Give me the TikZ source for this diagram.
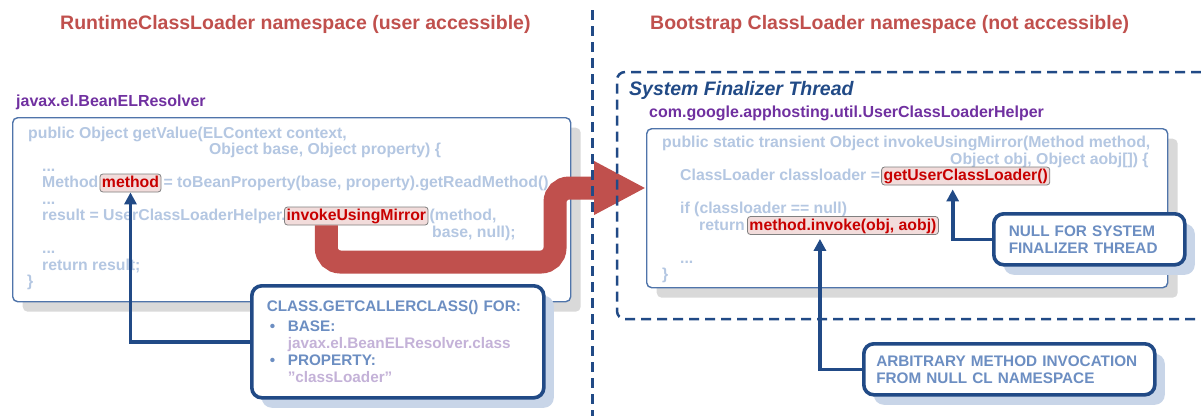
\documentclass[tikz,border=0pt]{standalone}
\usepackage{fontspec}
\setmainfont{Liberation Sans}
\usetikzlibrary{positioning,calc,shadows,arrows.meta}

\definecolor{titlered}{RGB}{192,80,77}
\definecolor{navy}{RGB}{33,74,134}
\definecolor{boxblue}{RGB}{79,116,170}
\definecolor{codegray}{RGB}{180,199,226}
\definecolor{notetext}{RGB}{108,142,194}
\definecolor{lilac}{RGB}{196,178,216}
\definecolor{pkgpurple}{RGB}{112,48,160}
\definecolor{hlfill}{RGB}{242,220,219}
\definecolor{hlred}{RGB}{200,0,0}
\definecolor{shadowgray}{RGB}{217,217,217}
\definecolor{shadowblue}{RGB}{200,213,232}

\newcommand\codefont{\fontsize{15.8}{16.5}\selectfont\bfseries}
\newcommand\notefont{\fontsize{15.3}{17}\selectfont\bfseries}

\tikzset{
  headline/.style={font=\fontsize{19.5}{22}\selectfont\bfseries, text=titlered, anchor=base west, inner sep=0},
  pkg/.style={font=\fontsize{16}{18}\selectfont\bfseries, text=pkgpurple, anchor=base west, inner sep=0},
  codeline/.style={font=\codefont, text=codegray, anchor=base west, inner sep=0},
  hl/.style={font=\codefont, text=hlred, fill=hlfill, draw=gray, line width=0.8pt, rounded corners=3pt,
    inner xsep=2pt, inner ysep=2pt, text height=11.5pt, text depth=2.5pt, anchor=base west},
  codebox/.style={draw=boxblue, line width=1.4pt, fill=white, rounded corners=5pt, anchor=north west,
    drop shadow={shadow xshift=10pt, shadow yshift=-10pt, fill=shadowgray, opacity=1}},
  callout/.style={draw=navy, line width=3.6pt, fill=white, rounded corners=10pt, font=\notefont, text=notetext,
    align=left, inner xsep=15pt, anchor=north west,
    drop shadow={shadow xshift=10pt, shadow yshift=-10pt, fill=shadowblue, opacity=1}},
  link/.style={draw=navy, line width=3.6pt, -{Triangle[length=12pt,width=12pt]}},
  bigarrow/.style={draw=titlered, line width=23pt, rounded corners=14pt, -{Triangle[length=52pt,width=50pt]}},
  divider/.style={navy, line width=3pt, dash pattern=on 10pt off 6pt},
  threadframe/.style={navy, line width=2.5pt, dash pattern=on 10pt off 6pt, rounded corners=8pt},
}

\begin{document}
\begin{tikzpicture}[x=1pt,y=-1pt]
  \useasboundingbox (0,0) rectangle (1201,416);
  % titles
  \node[headline] (ltitle) at (60,29) {RuntimeClassLoader namespace (user accessible)};
  \node[headline] (rtitle) at (650,29) {Bootstrap ClassLoader namespace (not accessible)};

  % user side
  \node[pkg] (lpkg) at (16,106.5) {javax.el.BeanELResolver};
  \node[codebox, minimum width=558pt, minimum height=184pt] (lcode) at (12,117) {};
  \node[codeline] (l1) at (28,138) {public Object getValue(ELContext context,};
  \node[codeline] (l2) at (209,154.5) {Object base, Object property) \{};
  \node[codeline] (l3) at (42,171) {...};
  \node[codeline] (l4) at (42,187.5) {Method};
  \node[hl] (hlmethod) at ([xshift=1pt]l4.base east) {method};
  \node[codeline] (l4b) at ([xshift=2pt]hlmethod.base east) {= toBeanProperty(base, property).getReadMethod()};
  \node[codeline] (l5) at (42,204) {...};
  \node[codeline] (l6) at (42,220.5) {result = UserClassLoaderHelper.};
  \node[hl] (hlmirror) at ([xshift=-2pt]l6.base east) {invokeUsingMirror};
  \node[codeline] (l6b) at ([xshift=1pt]hlmirror.base east) {(method,};
  \node[codeline] (l7) at (432,237) {base, null);};
  \node[codeline] (l8) at (42,253.5) {...};
  \node[codeline] (l9) at (42,270) {return result;};
  \node[codeline] (l10) at (27,286.5) {\}};

  % bootstrap side
  \node[pkg] (rpkg) at (649,117.5) {com.google.apphosting.util.UserClassLoaderHelper};
  \node[codebox, minimum width=521pt, minimum height=159pt] (rcode) at (646,128) {};
  \node[codeline] (r1) at (662,147.5) {public static transient Object invokeUsingMirror(Method method,};
  \node[codeline] (r2) at (950,164) {Object obj, Object aobj[]) \{};
  \node[codeline] (r3) at (680,180.5) {ClassLoader classloader =};
  \node[hl] (hlloader) at ([xshift=1pt]r3.base east) {getUserClassLoader()};
  \node[codeline] (r4) at (680,213.5) {if (classloader == null)};
  \node[codeline] (r5) at (699,230) {return};
  \node[hl] (hlinvoke) at ([xshift=2pt]r5.base east) {method.invoke(obj, aobj)};
  \node[codeline] (r6) at (680,263) {...};
  \node[codeline] (r7) at (662,279.5) {\}};

  % the call crossing over
  \coordinate (bendlow) at (555,262);
  \coordinate (bendhigh) at (555,188);
  \draw[bigarrow] ($(hlmirror.south)+(-30,0)$) |- (bendlow) -- (bendhigh) -- (bendhigh -| rcode.west);

  \draw[divider] (592,10) -- (592,416);
  \draw[threadframe] (1201,72) -- (617,72) -- (617,319) -- (1201,319);
  \node[font=\fontsize{19.5}{22}\selectfont\bfseries\itshape, text=navy, anchor=base west, inner sep=0]
    (thread) at (629,95) {System Finalizer Thread};

  % notes
  \node[callout, text width=262pt, minimum height=112pt] (getcaller) at (250,284)
    {CLASS.GETCALLERCLASS() FOR:\\[3pt]
     \makebox[21pt][l]{\hspace{3pt}•}BASE:\\
     \hspace*{21pt}\textcolor{lilac}{javax.el.BeanELResolver.class}\\
     \makebox[21pt][l]{\hspace{3pt}•}PROPERTY:\\
     \hspace*{21pt}\textcolor{lilac}{”classLoader”}};
  \node[callout, text width=161pt, minimum height=51pt] (nullnote) at (992,212)
    {NULL FOR SYSTEM\\FINALIZER THREAD};
  \node[callout, text width=266pt, inner xsep=12.5pt, minimum height=51pt] (arbnote) at (862,342)
    {ARBITRARY METHOD INVOCATION\\FROM NULL CL NAMESPACE};

  \draw[link] (getcaller.west) -| (hlmethod.south);
  \draw[link, shorten >=4pt] (nullnote.west) -| ($(hlloader.south)+(-13,0)$);
  \draw[link, shorten >=4pt] (arbnote.west) -| ($(hlinvoke.south)+(-23,0)$);
\end{tikzpicture}
\end{document}
